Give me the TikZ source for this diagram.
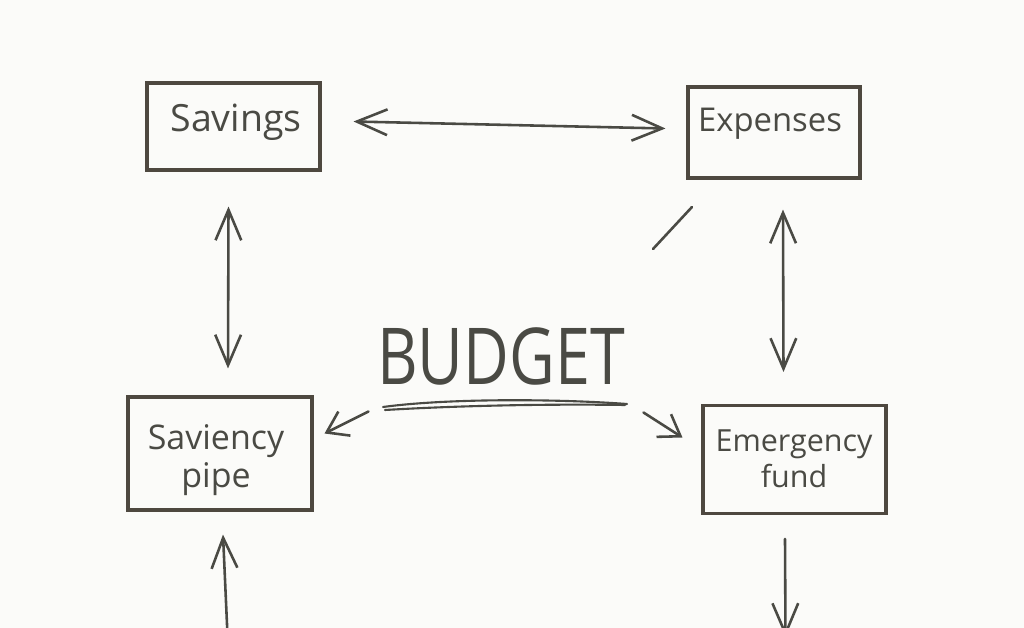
\documentclass[tikz,border=0pt]{standalone}
\usepackage{fontspec}
\setmainfont{Open Sans}
\usetikzlibrary{arrows.meta,calc}
\definecolor{ink}{HTML}{4A4A44}
\definecolor{frame}{HTML}{4E4840}
\definecolor{paper}{HTML}{FBFBF9}
\begin{document}
\begin{tikzpicture}[x=0.03cm,y=-0.03cm,
  box/.style={draw=frame,line width=2.6pt,inner sep=0pt},
  label/.style={text=ink,inner sep=0pt,align=center},
  barb/.tip={Straight Barb[length=26pt,width=22pt,line width=2.2pt]},
  smallbarb/.tip={Straight Barb[length=17pt,width=23pt,line width=2.2pt]},
  link/.style={draw=ink,line width=2.2pt,line cap=round,-barb},
  twoway/.style={draw=ink,line width=2.2pt,line cap=round,barb-barb},
  budlink/.style={draw=ink,line width=2.2pt,line cap=round,-smallbarb},
  pen/.style={draw=ink,line width=2.2pt,line cap=round}]
\fill[paper] (0,0) rectangle (1024,628);
\useasboundingbox (0,0) rectangle (1024,628);

% boxes
\node[box,minimum width=5.19cm,minimum height=2.61cm] (sav) at (233.5,126.5) {};
\node[label,font=\fontsize{32}{36}\selectfont] (savt) at (236,122) {Savings};
\node[box,minimum width=5.16cm,minimum height=2.73cm] (exp) at (774,132.5) {};
\node[label,font=\fontsize{28}{32}\selectfont] (expt) at (770,124) {Expenses};
\node[box,minimum width=5.52cm,minimum height=3.39cm] (pipe) at (220,453.5) {};
\node[label,font=\fontsize{29}{33}\selectfont] (pipet) at (216,460) {Saviency\\pipe};
\node[box,minimum width=5.49cm,minimum height=3.24cm] (emg) at (794.5,459.5) {};
\node[label,font=\fontsize{26}{31}\selectfont] (emgt) at (794,459) {Emergency\\fund};

% title
\node[label] (bud) at (501,356)
  {\scalebox{0.8}[1]{\fontsize{67}{72}\selectfont BUDGET}};

% underline swoosh
\draw[pen,line width=1.8pt] (383,407) .. controls (450,398) and (560,399) .. (627,404);
\draw[pen,line width=1.8pt] (385,410) .. controls (470,405) and (560,404) .. (625,405);

% connectors
\draw[twoway] ($(sav.east)+(32,-5)$) -- ($(exp.west)+(-21,-4)$);
\draw[twoway] ($(sav.south)+(-5,35)$) -- ($(pipe.north)+(8,-27)$);
\draw[twoway] ($(exp.south)+(9,30)$) -- ($(emg.north)+(-11,-32)$);
\draw[budlink] ($(pipe.east)+(55,-42)$) -- ($(pipe.east)+(11,-20)$);
\draw[budlink] ($(emg.west)+(-58,-47)$) -- ($(emg.west)+(-19,-22)$);
\draw[link] ($(pipe.south)+(8,135)$) -- ($(pipe.south)+(3,23)$);
\draw[link] ($(emg.south)+(-9.5,24)$) -- ($(emg.south)+(-9,122)$);

% stray stroke
\draw[pen] (653,249) -- (692,207);
\end{tikzpicture}
\end{document}
